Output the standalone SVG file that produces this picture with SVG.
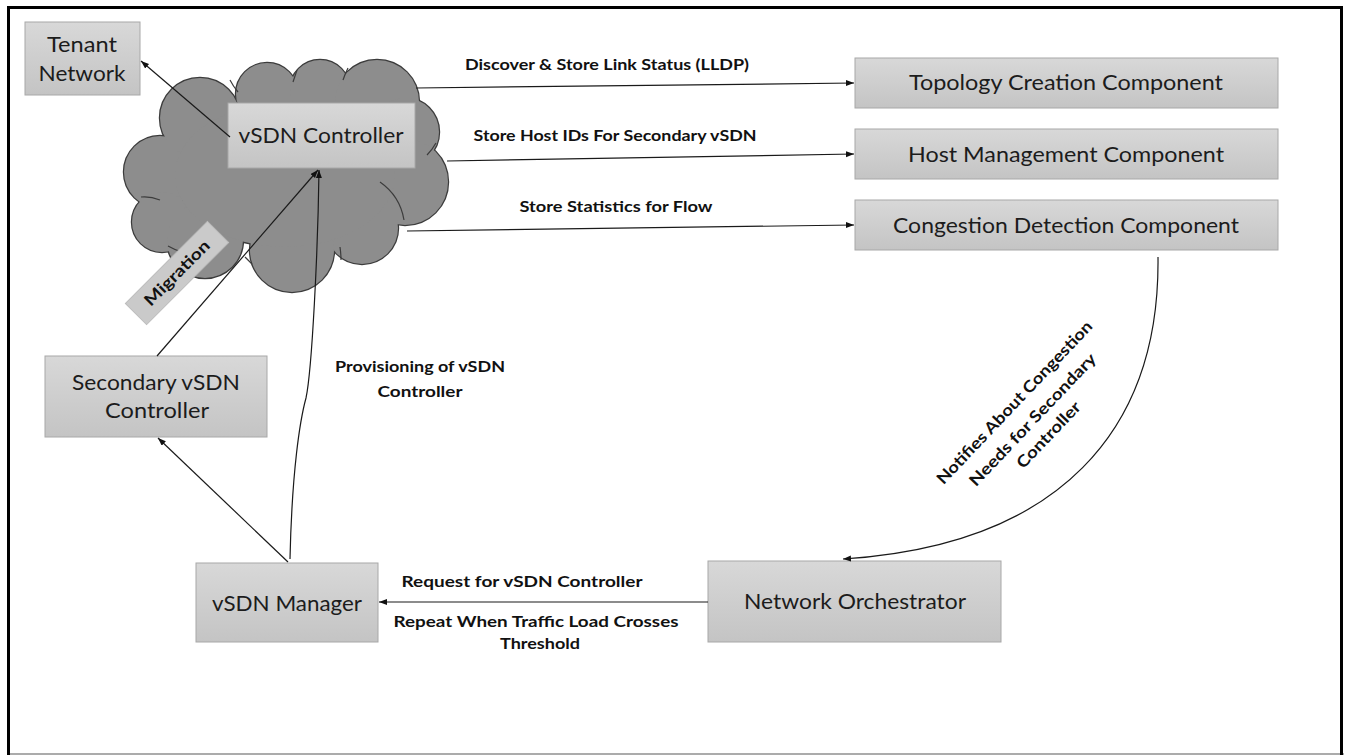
<svg xmlns="http://www.w3.org/2000/svg" width="1347" height="756" viewBox="0 0 1347 756">
  <defs>
    <linearGradient id="boxFill" x1="0" y1="0" x2="0" y2="1">
      <stop offset="0" stop-color="#d8d8d8"/>
      <stop offset="1" stop-color="#c4c4c4"/>
    </linearGradient>
    <marker id="arrow" markerWidth="10" markerHeight="8" refX="8" refY="3" orient="auto" markerUnits="userSpaceOnUse">
      <path d="M0,0 L8,3 L0,6 z" fill="#111"/>
    </marker>
  </defs>
  <style>
    .box { fill: url(#boxFill); stroke: #a8a8a8; stroke-width: 1; }
    .node-text { font-family: Lato, "Liberation Sans", sans-serif; font-size: 22px; fill: #1c1c1c; text-anchor: middle; }
    .label { font-family: Lato, "Liberation Sans", sans-serif; font-size: 16px; font-weight: bold; fill: #111; text-anchor: middle; }
    .conn { fill: none; stroke: #1a1a1a; stroke-width: 1.2; }
    .cloud-edge { fill: none; stroke: #3c3c3c; stroke-width: 2.4; }
    .cloud-body { fill: #8d8d8d; stroke: none; }
    .cloud-inner { fill: none; stroke: #3c3c3c; stroke-width: 1.2; }
  </style>

  <rect width="1347" height="756" fill="#ffffff"/>

  <!-- outer frame -->
  <g id="frame">
    <line x1="1344" y1="754" x2="8" y2="754" stroke="#ababab" stroke-width="2"/>
    <line x1="8.5" y1="6" x2="8.5" y2="755" stroke="#000" stroke-width="3"/>
    <line x1="7" y1="7.5" x2="1342" y2="7.5" stroke="#000" stroke-width="3"/>
    <line x1="1341.5" y1="6" x2="1341.5" y2="755" stroke="#000" stroke-width="3"/>
  </g>

  <!-- cloud around the controller: outline pass, then fill pass hides inner overlaps -->
  <g id="cloud">
    <g class="cloud-edge">
      <circle cx="160" cy="172" r="36"/>
      <circle cx="162" cy="222" r="30"/>
      <circle cx="200" cy="118" r="40"/>
      <circle cx="267" cy="94" r="31"/>
      <circle cx="320" cy="90" r="30"/>
      <circle cx="377" cy="102" r="42"/>
      <circle cx="405" cy="132" r="34"/>
      <circle cx="405" cy="182" r="43"/>
      <circle cx="362" cy="228" r="36"/>
      <circle cx="292" cy="250" r="42"/>
      <circle cx="205" cy="240" r="38"/>
      <ellipse cx="285" cy="175" rx="110" ry="72"/>
    </g>
    <g class="cloud-body">
      <circle cx="160" cy="172" r="36"/>
      <circle cx="162" cy="222" r="30"/>
      <circle cx="200" cy="118" r="40"/>
      <circle cx="267" cy="94" r="31"/>
      <circle cx="320" cy="90" r="30"/>
      <circle cx="377" cy="102" r="42"/>
      <circle cx="405" cy="132" r="34"/>
      <circle cx="405" cy="182" r="43"/>
      <circle cx="362" cy="228" r="36"/>
      <circle cx="292" cy="250" r="42"/>
      <circle cx="205" cy="240" r="38"/>
      <ellipse cx="285" cy="175" rx="110" ry="72"/>
    </g>
    <g class="cloud-inner">
      <path d="M141,197 Q150,196 160,200"/>
      <path d="M238,92 Q233,86 230,80"/>
      <path d="M293,82 Q295,76 297,70"/>
      <path d="M343,80 Q345,74 348,68"/>
      <path d="M427,155 Q432,150 436,143"/>
      <path d="M380,182 Q400,196 404,220"/>
      <path d="M340,247 Q341,254 341,260"/>
      <path d="M245,257 Q249,261 252,264"/>
      <path d="M168,246 Q175,250 182,252"/>
    </g>
  </g>

  <g id="tenant-network">
    <rect class="box" x="25" y="22" width="115" height="73"/>
    <text class="node-text" x="82" y="52" textLength="70" lengthAdjust="spacingAndGlyphs">Tenant</text>
    <text class="node-text" x="82" y="81" textLength="87" lengthAdjust="spacingAndGlyphs">Network</text>
  </g>

  <g id="vsdn-controller">
    <rect class="box" x="228" y="103" width="187" height="65"/>
    <text class="node-text" x="321" y="143" textLength="165" lengthAdjust="spacingAndGlyphs">vSDN Controller</text>
  </g>

  <g id="migration">
    <g transform="translate(177,273) rotate(-45)">
      <rect x="-58" y="-15" width="116" height="30" fill="#cacaca" stroke="#bcbcbc" stroke-width="1"/>
      <text class="label" x="0" y="5.5" textLength="85" lengthAdjust="spacingAndGlyphs">Migration</text>
    </g>
  </g>

  <g id="topology-creation">
    <rect class="box" x="855" y="58" width="423" height="50"/>
    <text class="node-text" x="1066" y="90" textLength="314" lengthAdjust="spacingAndGlyphs">Topology Creation Component</text>
  </g>

  <g id="host-management">
    <rect class="box" x="855" y="129" width="423" height="50"/>
    <text class="node-text" x="1066" y="162" textLength="316" lengthAdjust="spacingAndGlyphs">Host Management Component</text>
  </g>

  <g id="congestion-detection">
    <rect class="box" x="855" y="200" width="423" height="50"/>
    <text class="node-text" x="1066" y="233" textLength="346" lengthAdjust="spacingAndGlyphs">Congestion Detection Component</text>
  </g>

  <g id="secondary-controller">
    <rect class="box" x="45" y="356" width="222" height="81"/>
    <text class="node-text" x="156" y="390" textLength="168" lengthAdjust="spacingAndGlyphs">Secondary vSDN</text>
    <text class="node-text" x="157" y="418" textLength="104" lengthAdjust="spacingAndGlyphs">Controller</text>
  </g>

  <g id="vsdn-manager">
    <rect class="box" x="196" y="563" width="182" height="79"/>
    <text class="node-text" x="287" y="611" textLength="150" lengthAdjust="spacingAndGlyphs">vSDN Manager</text>
  </g>

  <g id="network-orchestrator">
    <rect class="box" x="708" y="561" width="293" height="81"/>
    <text class="node-text" x="855" y="609" textLength="222" lengthAdjust="spacingAndGlyphs">Network Orchestrator</text>
  </g>

  <g id="connectors">
    <path class="conn" d="M230,137 L141,61" marker-end="url(#arrow)"/>
    <path class="conn" d="M157,356 L318,170" marker-end="url(#arrow)"/>
    <path class="conn" d="M290,559 C292,470 300,420 306,398 C312,370 318,250 319,170" marker-end="url(#arrow)"/>
    <path class="conn" d="M416,88 L854,83" marker-end="url(#arrow)"/>
    <path class="conn" d="M447,161 L854,154" marker-end="url(#arrow)"/>
    <path class="conn" d="M407,231 L854,225" marker-end="url(#arrow)"/>
    <path class="conn" d="M1158,257 C1160,430 1060,545 843,559" marker-end="url(#arrow)"/>
    <path class="conn" d="M708,602 L379,602" marker-end="url(#arrow)"/>
    <path class="conn" d="M288,562 L158,438" marker-end="url(#arrow)"/>

    <text class="label" x="607" y="70" textLength="284" lengthAdjust="spacingAndGlyphs">Discover &amp; Store Link Status (LLDP)</text>
    <text class="label" x="615" y="141" textLength="283" lengthAdjust="spacingAndGlyphs">Store Host IDs For Secondary vSDN</text>
    <text class="label" x="616" y="212" textLength="193" lengthAdjust="spacingAndGlyphs">Store Statistics for Flow</text>
    <text class="label" x="420" y="372" textLength="170" lengthAdjust="spacingAndGlyphs">Provisioning of vSDN</text>
    <text class="label" x="420" y="397" textLength="85" lengthAdjust="spacingAndGlyphs">Controller</text>
    <text class="label" x="522" y="587" textLength="241" lengthAdjust="spacingAndGlyphs">Request for vSDN Controller</text>
    <text class="label" x="536" y="627" textLength="285" lengthAdjust="spacingAndGlyphs">Repeat When Traffic Load Crosses</text>
    <text class="label" x="540" y="649" textLength="80" lengthAdjust="spacingAndGlyphs">Threshold</text>
    <g transform="translate(1033,420) rotate(-46.5)">
      <text class="label" x="0" y="-20" textLength="218" lengthAdjust="spacingAndGlyphs">Notifies About Congestion</text>
      <text class="label" x="0" y="5" textLength="176" lengthAdjust="spacingAndGlyphs">Needs for Secondary</text>
      <text class="label" x="0" y="27" textLength="85" lengthAdjust="spacingAndGlyphs">Controller</text>
    </g>
  </g>
</svg>
